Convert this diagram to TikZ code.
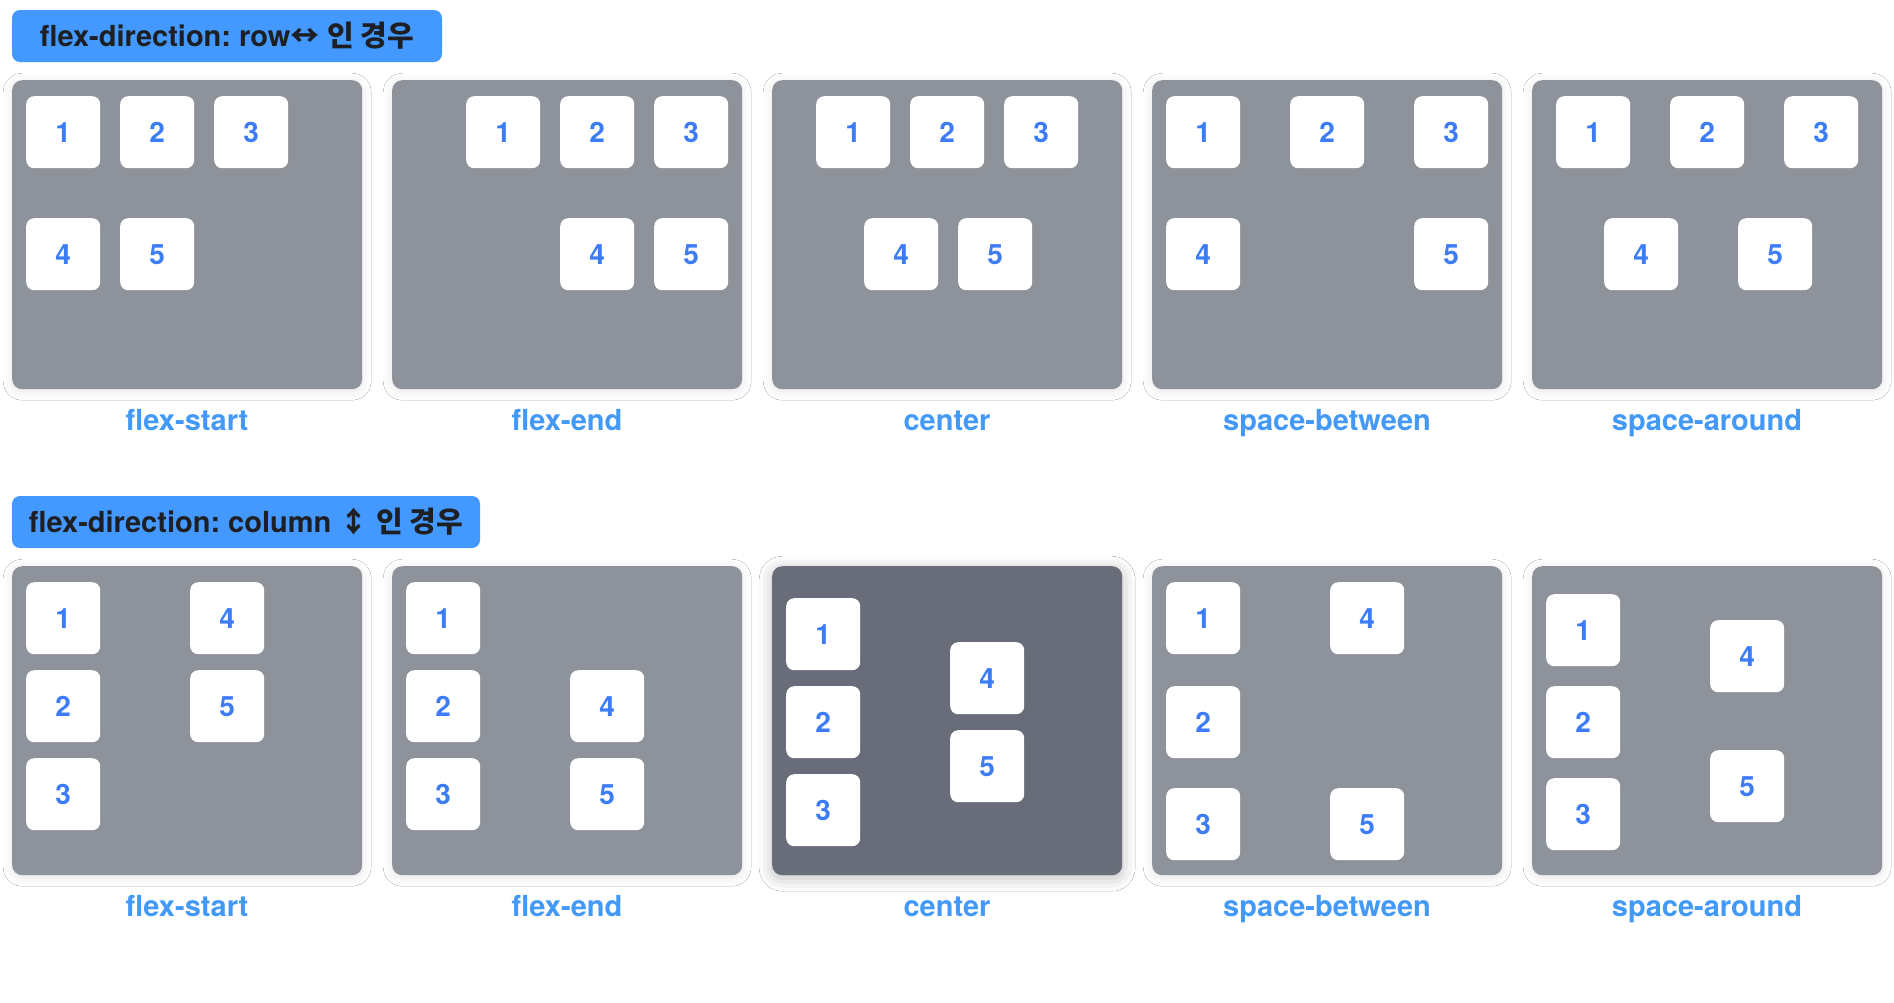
\documentclass[tikz,border=0pt]{standalone}
\usepackage{fontspec}
\setmainfont{TeX Gyre Heros}
\newfontfamily\kr{Noto Sans CJK KR}
\usetikzlibrary{shadows.blur}
\frenchspacing
\definecolor{hdrblue}{HTML}{4399FF}
\definecolor{hdrtext}{HTML}{1E1F22}
\definecolor{panelgray}{HTML}{8E929A}
\definecolor{paneldark}{HTML}{686D79}
\definecolor{numblue}{HTML}{3C7CF6}
\definecolor{lblblue}{HTML}{4299F7}
\tikzset{
  hdr/.style={fill=hdrblue, rounded corners=8pt, minimum height=52pt, inner sep=0pt,
    text=hdrtext, font=\fontsize{29}{30}\selectfont\bfseries, text height=20pt, text depth=0pt},
  panel/.style={fill=panelgray, rounded corners=10pt, minimum width=350pt, minimum height=309pt,
    anchor=north west, inner sep=0pt,
    blur shadow={shadow xshift=0pt, shadow yshift=-2pt, shadow blur radius=9pt, shadow opacity=10}},
  darkpanel/.style={fill=paneldark, rounded corners=10pt, minimum width=350pt, minimum height=309pt,
    anchor=north west, inner sep=0pt,
    blur shadow={shadow xshift=0pt, shadow yshift=-3pt, shadow blur radius=13pt, shadow opacity=26}},
  item/.style={fill=white, rounded corners=8pt, minimum width=74pt, minimum height=72pt,
    anchor=north west, inner sep=0pt, text=numblue, font=\fontsize{28}{30}\selectfont\bfseries},
  lbl/.style={text=lblblue, font=\fontsize{29}{30}\selectfont\bfseries, inner sep=0pt,
    text height=21pt, text depth=0pt}
}
\newcommand{\rowpanel}[6]{%
  \pgfmathsetmacro\px{12+380*#1}
  \node[item] (r#1n1) at (\px+#2,96) {1};
  \node[item] (r#1n2) at (\px+#3,96) {2};
  \node[item] (r#1n3) at (\px+#4,96) {3};
  \node[item] (r#1n4) at (\px+#5,218) {4};
  \node[item] (r#1n5) at (\px+#6,218) {5};
}
\newcommand{\colpanel}[6]{%
  \pgfmathsetmacro\px{12+380*#1}
  \node[item] (c#1n1) at (\px+14,566+#2) {1};
  \node[item] (c#1n2) at (\px+14,566+#3) {2};
  \node[item] (c#1n3) at (\px+14,566+#4) {3};
  \node[item] (c#1n4) at (\px+178,566+#5) {4};
  \node[item] (c#1n5) at (\px+178,566+#6) {5};
}
\begin{document}
\begin{tikzpicture}[x=1pt,y=-1pt]
\useasboundingbox (0,0) rectangle (1894,1002);
\fill[white] (0,0) rectangle (1894,1002);

\node[hdr, minimum width=430pt] (hrow) at (227,36) {flex-direction: row{\kr\bfseries ↔} {\kr\bfseries 인 경우}};
\node[hdr, minimum width=468pt] (hcol) at (246,522) {flex-direction: column {\kr\bfseries ↕} {\kr\bfseries 인 경우}};

% row panels
\foreach \i/\lab in {0/flex-start,1/flex-end,2/center,3/space-between,4/space-around}{
  \node[panel] (rp\i) at ({12+380*\i},80) {};
  \node[lbl] (rl\i) at ({187+380*\i},419.5) {\lab};
}
% column panels
\foreach \i/\lab in {0/flex-start,1/flex-end,3/space-between,4/space-around}{
  \node[panel] (cp\i) at ({12+380*\i},566) {};
}
\node[darkpanel] (cp2) at (772,566) {};
\foreach \i/\lab in {0/flex-start,1/flex-end,2/center,3/space-between,4/space-around}{
  \node[lbl] (cl\i) at ({187+380*\i},905.5) {\lab};
}

\rowpanel{0}{14}{108}{202}{14}{108}
\rowpanel{1}{74}{168}{262}{168}{262}
\rowpanel{2}{44}{138}{232}{92}{186}
\rowpanel{3}{14}{138}{262}{14}{262}
\rowpanel{4}{24}{138}{252}{72}{206}

\colpanel{0}{16}{104}{192}{16}{104}
\colpanel{1}{16}{104}{192}{104}{192}
\colpanel{2}{32}{120}{208}{76}{164}
\colpanel{3}{16}{120}{222}{16}{222}
\colpanel{4}{28}{120}{212}{54}{184}
\end{tikzpicture}
\end{document}
